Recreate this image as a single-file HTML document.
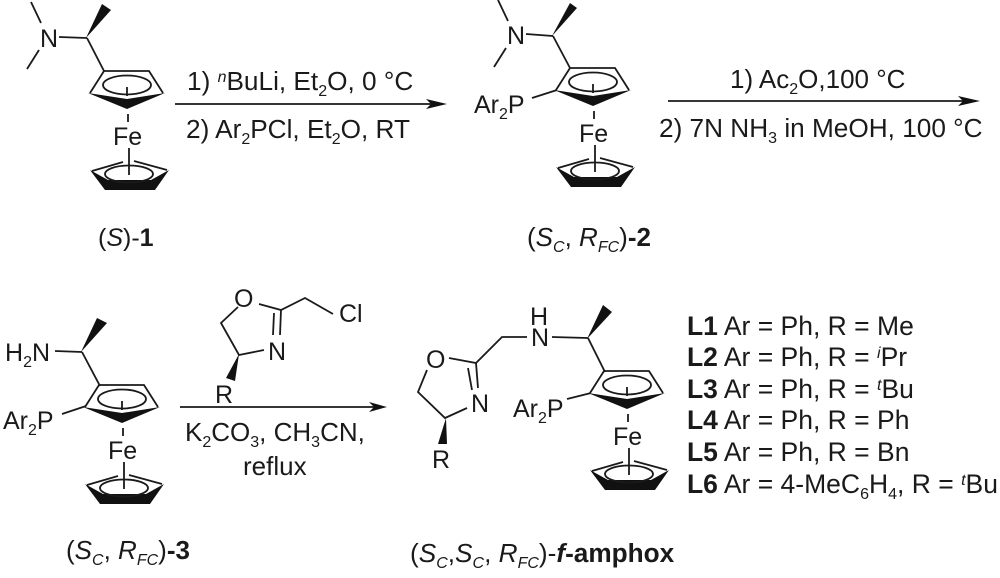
<!DOCTYPE html>
<html><head><meta charset="utf-8">
<style>
html,body{margin:0;padding:0;background:#fff}
svg{display:block}
text{font-family:"Liberation Sans",sans-serif;font-size:26px;fill:#1a1a1a}
.a{font-size:25px}
.t{font-size:26.2px}
.li{font-size:26.5px}
.s{font-size:16px}
.b{font-weight:bold}
.i{font-style:italic}
line,path.l,ellipse{stroke:#1a1a1a;stroke-width:1.8;fill:none}
polygon{fill:#111;stroke:none}
</style></head><body>
<svg width="1000" height="578" viewBox="0 0 1000 578" xmlns="http://www.w3.org/2000/svg">
<defs>
<g id="fc">
<path class="l" d="M90 93L104 71H149L163 93"/>
<polygon points="88,93 127,109 165,93 127,99"/>
<ellipse cx="127" cy="85" rx="24" ry="9.5"/>
<line x1="127" y1="87" x2="127" y2="96"/>
<line x1="128" y1="114" x2="128" y2="122"/>
<line x1="129" y1="148" x2="129" y2="175"/>
<path class="l" d="M92 171L123 162M134 161L167 170"/>
<polygon points="90,170 105,190 155,190 169,170 151,180 108,180"/>
<ellipse cx="129" cy="174" rx="24" ry="8.5"/>
<text class="a" x="113" y="145">Fe</text>
</g>
</defs>

<!-- S-1 -->
<use href="#fc"/>
<line x1="31" y1="2" x2="41" y2="23"/>
<line x1="27" y1="69" x2="39" y2="50"/>
<line x1="59" y1="37" x2="87" y2="38"/>
<line x1="87" y1="38" x2="104" y2="71"/>
<polygon points="86,38 102,4 111,10"/>
<text class="a" x="40" y="47">N</text>
<text class="a" x="98" y="246">(<tspan class="i">S</tspan>)-<tspan class="b">1</tspan></text>

<!-- arrow 1 -->
<line x1="175" y1="104" x2="436" y2="104"/>
<polygon points="447,104 426,99 431,104 426,109"/>
<text class="t" x="187" y="90">1) <tspan class="i s" dy="-8">n</tspan><tspan dy="8">BuLi, Et</tspan><tspan class="s" dy="6">2</tspan><tspan dy="-6">O, 0 °C</tspan></text>
<text class="t" x="186" y="138">2) Ar<tspan class="s" dy="6">2</tspan><tspan dy="-6">PCl, Et</tspan><tspan class="s" dy="6">2</tspan><tspan dy="-6">O, RT</tspan></text>

<!-- 2 -->
<use href="#fc" transform="translate(466,-3)"/>
<line x1="498" y1="0" x2="508" y2="21"/>
<line x1="494" y1="67" x2="506" y2="48"/>
<line x1="526" y1="34" x2="553" y2="36"/>
<line x1="553" y1="36" x2="570" y2="68"/>
<polygon points="552,36 570,3 577,8"/>
<line x1="532" y1="98" x2="557" y2="90"/>
<text class="a" x="507" y="44">N</text>
<text class="a" x="474" y="113">Ar<tspan class="s" dy="6">2</tspan><tspan dy="-6">P</tspan></text>
<text x="527" y="246">(<tspan class="i">S</tspan><tspan class="i s" dy="6">C</tspan><tspan dy="-6">, </tspan><tspan class="i">R</tspan><tspan class="i s" dy="6">FC</tspan><tspan dy="-6">)</tspan><tspan class="b">-2</tspan></text>

<!-- arrow 2 -->
<line x1="668" y1="101" x2="968" y2="101"/>
<polygon points="980,101 958,96 963,101 958,106"/>
<text x="730" y="88">1) Ac<tspan class="s" dy="6">2</tspan><tspan dy="-6">O,100 °C</tspan></text>
<text class="t" x="659" y="137">2) 7N NH<tspan class="s" dy="6">3</tspan><tspan dy="-6"> in MeOH, 100 °C</tspan></text>

<!-- 3 -->
<use href="#fc" transform="translate(-5,314)"/>
<line x1="55" y1="351" x2="82" y2="352"/>
<line x1="82" y1="352" x2="100" y2="386"/>
<polygon points="81,352 97,318 107,323"/>
<line x1="62" y1="414" x2="86" y2="406"/>
<text class="a" x="5" y="361">H<tspan class="s" dy="6">2</tspan><tspan dy="-6">N</tspan></text>
<text class="a" x="3" y="429">Ar<tspan class="s" dy="6">2</tspan><tspan dy="-6">P</tspan></text>
<text x="66" y="559">(<tspan class="i">S</tspan><tspan class="i s" dy="6">C</tspan><tspan dy="-6">, </tspan><tspan class="i">R</tspan><tspan class="i s" dy="6">FC</tspan><tspan dy="-6">)</tspan><tspan class="b">-3</tspan></text>

<!-- reagent -->
<path class="l" d="M238 307L221 323L239 355L264 350"/>
<path class="l" d="M259 304L281 310L305 298L333 314"/>
<line x1="281" y1="310" x2="280" y2="335"/>
<line x1="274" y1="313" x2="273" y2="335"/>
<polygon points="239,354 226,378 235,381"/>
<text class="a" x="234" y="307">O</text>
<text class="a" x="268" y="360">N</text>
<text class="a" x="339" y="322">Cl</text>
<text class="a" x="215" y="403">R</text>

<!-- arrow 3 -->
<line x1="180" y1="407" x2="374" y2="407"/>
<polygon points="387,407 369,402 374,407 369,412"/>
<text x="185" y="441">K<tspan class="s" dy="6">2</tspan><tspan dy="-6">CO</tspan><tspan class="s" dy="6">3</tspan><tspan dy="-6">, CH</tspan><tspan class="s" dy="6">3</tspan><tspan dy="-6">CN,</tspan></text>
<text x="243" y="475">reflux</text>

<!-- amphox -->
<use href="#fc" transform="translate(500,300)"/>
<path class="l" d="M427 370L418 392L445 418L467 408"/>
<path class="l" d="M449 358L476 363L502 337H527"/>
<line x1="476" y1="363" x2="478" y2="388"/>
<line x1="468" y1="368" x2="472" y2="390"/>
<line x1="552" y1="337" x2="588" y2="338"/>
<line x1="588" y1="338" x2="605" y2="372"/>
<polygon points="587,339 603,305 612,312"/>
<line x1="567" y1="399" x2="591" y2="393"/>
<polygon points="446,418 438,444 447,444"/>
<text class="a" x="426" y="368">O</text>
<text class="a" x="471" y="412">N</text>
<text class="a" x="531" y="346">N</text>
<text class="a" x="530" y="325">H</text>
<text class="a" x="432" y="468">R</text>
<text class="a" x="513" y="417">Ar<tspan class="s" dy="6">2</tspan><tspan dy="-6">P</tspan></text>
<text class="t" x="410" y="562">(<tspan class="i">S</tspan><tspan class="i s" dy="6">C</tspan><tspan dy="-6">,</tspan><tspan class="i">S</tspan><tspan class="i s" dy="6">C</tspan><tspan dy="-6">, </tspan><tspan class="i">R</tspan><tspan class="i s" dy="6">FC</tspan><tspan dy="-6">)-</tspan><tspan class="i b">f</tspan><tspan class="b">-amphox</tspan></text>

<!-- list -->
<text class="li" x="687" y="335"><tspan class="b">L1</tspan> Ar = Ph, R = Me</text>
<text class="li" x="687" y="366"><tspan class="b">L2</tspan> Ar = Ph, R = <tspan class="i s" dy="-8">i</tspan><tspan dy="8">Pr</tspan></text>
<text class="li" x="687" y="398"><tspan class="b">L3</tspan> Ar = Ph, R = <tspan class="i s" dy="-8">t</tspan><tspan dy="8">Bu</tspan></text>
<text class="li" x="687" y="429"><tspan class="b">L4</tspan> Ar = Ph, R = Ph</text>
<text class="li" x="687" y="461"><tspan class="b">L5</tspan> Ar = Ph, R = Bn</text>
<text class="li" x="687" y="493"><tspan class="b">L6</tspan> Ar = 4-MeC<tspan class="s" dy="6">6</tspan><tspan dy="-6">H</tspan><tspan class="s" dy="6">4</tspan><tspan dy="-6">, R = </tspan><tspan class="i s" dy="-8">t</tspan><tspan dy="8">Bu</tspan></text>
</svg>
</body></html>
